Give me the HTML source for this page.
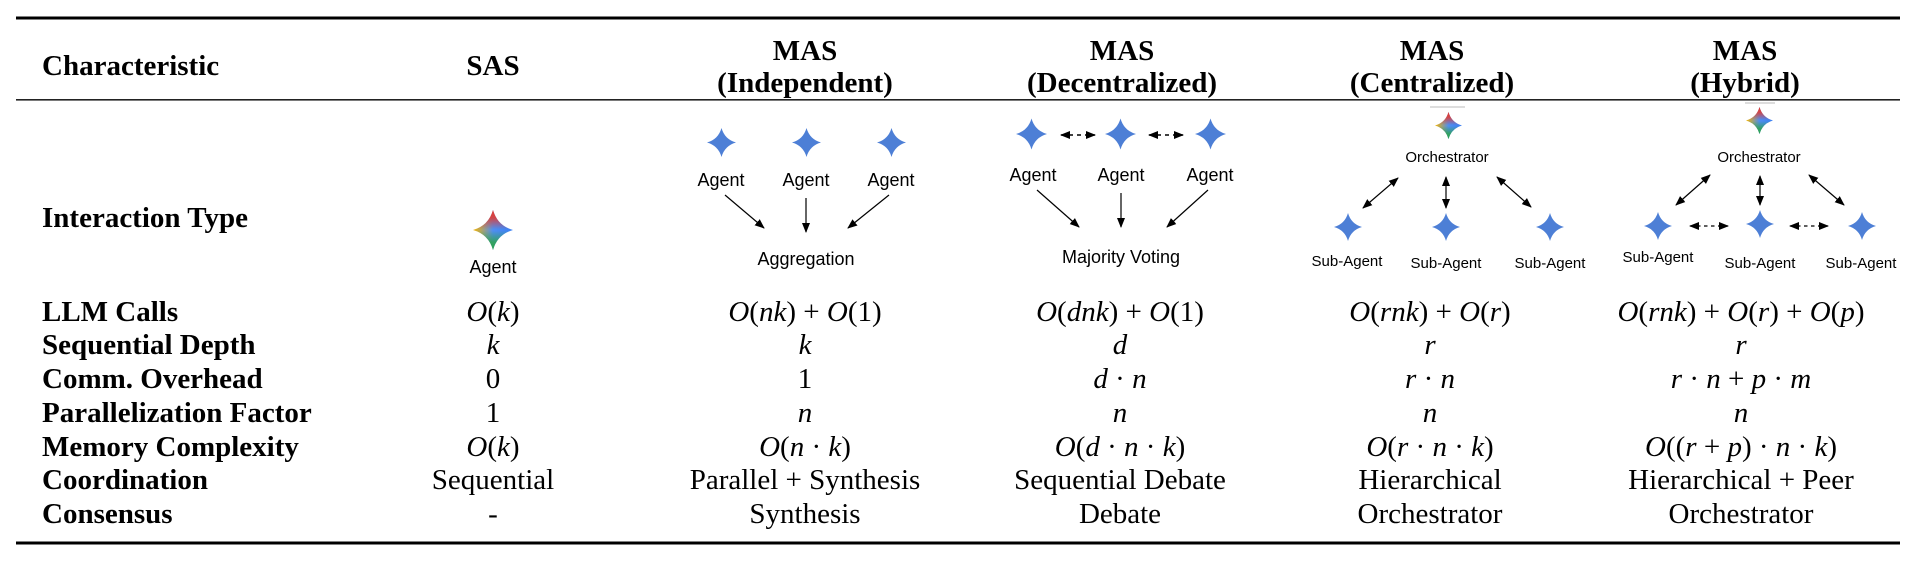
<!DOCTYPE html>
<html><head><meta charset="utf-8">
<style>
html,body{margin:0;padding:0;background:#fff;}
svg{display:block;}
.h{font-family:"Liberation Serif",serif;font-weight:bold;font-size:29px;fill:#000;}
.v{font-family:"Liberation Serif",serif;font-size:29px;fill:#000;}
.i{font-style:italic;}
.s{font-family:"Liberation Sans",sans-serif;font-size:18px;fill:#000;}
.ss{font-family:"Liberation Sans",sans-serif;font-size:15px;fill:#000;}
</style></head>
<body>
<svg width="1916" height="562" viewBox="0 0 1916 562" xmlns="http://www.w3.org/2000/svg">
<defs>
  <linearGradient id="gx" x1="0" y1="0" x2="1" y2="0">
    <stop offset="0" stop-color="#f6b400"/>
    <stop offset="0.5" stop-color="#4f8ef0"/>
    <stop offset="1" stop-color="#3b7ff2"/>
  </linearGradient>
  <linearGradient id="gt" x1="0" y1="0" x2="0" y2="1">
    <stop offset="0" stop-color="#e53a2f" stop-opacity="1"/>
    <stop offset="0.2" stop-color="#e53a2f" stop-opacity="0.85"/>
    <stop offset="0.48" stop-color="#e53a2f" stop-opacity="0"/>
  </linearGradient>
  <linearGradient id="gb" x1="0" y1="0" x2="0" y2="1">
    <stop offset="0.52" stop-color="#2ea44f" stop-opacity="0"/>
    <stop offset="0.8" stop-color="#2ea44f" stop-opacity="0.85"/>
    <stop offset="1" stop-color="#2ea44f" stop-opacity="1"/>
  </linearGradient>
  <symbol id="star" viewBox="-1 -1 2 2">
    <path d="M0,-1 Q0.22,-0.22 1,0 Q0.22,0.22 0,1 Q-0.22,0.22 -1,0 Q-0.22,-0.22 0,-1Z"/>
  </symbol>
  <symbol id="cstar" viewBox="-1 -1 2 2">
    <path fill="url(#gx)" d="M0,-1 Q0.22,-0.22 1,0 Q0.22,0.22 0,1 Q-0.22,0.22 -1,0 Q-0.22,-0.22 0,-1Z"/>
    <path fill="url(#gt)" d="M0,-1 Q0.22,-0.22 1,0 Q0.22,0.22 0,1 Q-0.22,0.22 -1,0 Q-0.22,-0.22 0,-1Z"/>
    <path fill="url(#gb)" d="M0,-1 Q0.22,-0.22 1,0 Q0.22,0.22 0,1 Q-0.22,0.22 -1,0 Q-0.22,-0.22 0,-1Z"/>
  </symbol>
  <marker id="ah" markerUnits="userSpaceOnUse" markerWidth="10" markerHeight="10" viewBox="0 0 10 10" refX="9" refY="5" orient="auto-start-reverse">
    <path d="M0,1 L10,5 L0,9 Z" fill="#000"/>
  </marker>
</defs>

<!-- rules -->
<rect x="16" y="16.5" width="1884" height="3" fill="#000"/>
<rect x="16" y="99" width="1884" height="1.6" fill="#222"/>
<rect x="16" y="541.5" width="1884" height="3" fill="#000"/>

<!-- header -->
<text class="h" x="42" y="75">Characteristic</text>
<text class="h" x="493" y="75" text-anchor="middle">SAS</text>
<text class="h" x="805" y="60" text-anchor="middle">MAS</text>
<text class="h" x="805" y="92" text-anchor="middle">(Independent)</text>
<text class="h" x="1122" y="60" text-anchor="middle">MAS</text>
<text class="h" x="1122" y="92" text-anchor="middle">(Decentralized)</text>
<text class="h" x="1432" y="60" text-anchor="middle">MAS</text>
<text class="h" x="1432" y="92" text-anchor="middle">(Centralized)</text>
<text class="h" x="1745" y="60" text-anchor="middle">MAS</text>
<text class="h" x="1745" y="92" text-anchor="middle">(Hybrid)</text>

<!-- row labels -->
<text class="h" x="42" y="227">Interaction Type</text>
<text class="h" x="42" y="321">LLM Calls</text>
<text class="h" x="42" y="354">Sequential Depth</text>
<text class="h" x="42" y="388">Comm. Overhead</text>
<text class="h" x="42" y="422">Parallelization Factor</text>
<text class="h" x="42" y="456">Memory Complexity</text>
<text class="h" x="42" y="489">Coordination</text>
<text class="h" x="42" y="523">Consensus</text>

<!-- SAS values -->
<g class="v" text-anchor="middle">
<text x="493" y="321"><tspan class="i">O</tspan>(<tspan class="i">k</tspan>)</text>
<text x="493" y="354" class="i">k</text>
<text x="493" y="388">0</text>
<text x="493" y="422">1</text>
<text x="493" y="456"><tspan class="i">O</tspan>(<tspan class="i">k</tspan>)</text>
<text x="493" y="489">Sequential</text>
<text x="493" y="523">-</text>

<!-- Independent -->
<text x="805" y="321"><tspan class="i">O</tspan>(<tspan class="i">nk</tspan>) + <tspan class="i">O</tspan>(1)</text>
<text x="805" y="354" class="i">k</text>
<text x="805" y="388">1</text>
<text x="805" y="422" class="i">n</text>
<text x="805" y="456"><tspan class="i">O</tspan>(<tspan class="i">n</tspan> · <tspan class="i">k</tspan>)</text>
<text x="805" y="489">Parallel + Synthesis</text>
<text x="805" y="523">Synthesis</text>

<!-- Decentralized -->
<text x="1120" y="321"><tspan class="i">O</tspan>(<tspan class="i">dnk</tspan>) + <tspan class="i">O</tspan>(1)</text>
<text x="1120" y="354" class="i">d</text>
<text x="1120" y="388"><tspan class="i">d</tspan> · <tspan class="i">n</tspan></text>
<text x="1120" y="422" class="i">n</text>
<text x="1120" y="456"><tspan class="i">O</tspan>(<tspan class="i">d</tspan> · <tspan class="i">n</tspan> · <tspan class="i">k</tspan>)</text>
<text x="1120" y="489">Sequential Debate</text>
<text x="1120" y="523">Debate</text>

<!-- Centralized -->
<text x="1430" y="321"><tspan class="i">O</tspan>(<tspan class="i">rnk</tspan>) + <tspan class="i">O</tspan>(<tspan class="i">r</tspan>)</text>
<text x="1430" y="354" class="i">r</text>
<text x="1430" y="388"><tspan class="i">r</tspan> · <tspan class="i">n</tspan></text>
<text x="1430" y="422" class="i">n</text>
<text x="1430" y="456"><tspan class="i">O</tspan>(<tspan class="i">r</tspan> · <tspan class="i">n</tspan> · <tspan class="i">k</tspan>)</text>
<text x="1430" y="489">Hierarchical</text>
<text x="1430" y="523">Orchestrator</text>

<!-- Hybrid -->
<text x="1741" y="321"><tspan class="i">O</tspan>(<tspan class="i">rnk</tspan>) + <tspan class="i">O</tspan>(<tspan class="i">r</tspan>) + <tspan class="i">O</tspan>(<tspan class="i">p</tspan>)</text>
<text x="1741" y="354" class="i">r</text>
<text x="1741" y="388"><tspan class="i">r</tspan> · <tspan class="i">n</tspan> + <tspan class="i">p</tspan> · <tspan class="i">m</tspan></text>
<text x="1741" y="422" class="i">n</text>
<text x="1741" y="456"><tspan class="i">O</tspan>((<tspan class="i">r</tspan> + <tspan class="i">p</tspan>) · <tspan class="i">n</tspan> · <tspan class="i">k</tspan>)</text>
<text x="1741" y="489">Hierarchical + Peer</text>
<text x="1741" y="523">Orchestrator</text>
</g>

<!-- SAS diagram -->
<use href="#cstar" x="473" y="209" width="40" height="42"/>
<text class="s" x="493" y="273" text-anchor="middle">Agent</text>

<!-- Independent diagram -->
<g fill="#4d7fd6">
<use href="#star" x="706" y="128" width="31" height="29"/>
<use href="#star" x="791" y="128" width="31" height="29"/>
<use href="#star" x="876" y="128" width="31" height="29"/>
</g>
<g class="s" text-anchor="middle">
<text x="721" y="186">Agent</text>
<text x="806" y="186">Agent</text>
<text x="891" y="186">Agent</text>
<text x="806" y="265">Aggregation</text>
</g>
<g stroke="#000" stroke-width="1.2" fill="none">
<line x1="725" y1="195" x2="764" y2="228" marker-end="url(#ah)"/>
<line x1="806" y1="198" x2="806" y2="232" marker-end="url(#ah)"/>
<line x1="889" y1="195" x2="848" y2="228" marker-end="url(#ah)"/>
</g>

<!-- Decentralized diagram -->
<g fill="#4d7fd6">
<use href="#star" x="1016" y="118" width="31" height="32"/>
<use href="#star" x="1105" y="118" width="31" height="32"/>
<use href="#star" x="1195" y="118" width="31" height="32"/>
</g>
<g stroke="#000" stroke-width="1.4" fill="none" stroke-dasharray="4 4">
<line x1="1061" y1="135" x2="1095" y2="135" marker-start="url(#ah)" marker-end="url(#ah)"/>
<line x1="1149" y1="135" x2="1183" y2="135" marker-start="url(#ah)" marker-end="url(#ah)"/>
</g>
<g class="s" text-anchor="middle">
<text x="1033" y="181">Agent</text>
<text x="1121" y="181">Agent</text>
<text x="1210" y="181">Agent</text>
<text x="1121" y="263">Majority Voting</text>
</g>
<g stroke="#000" stroke-width="1.2" fill="none">
<line x1="1037" y1="190" x2="1079" y2="227" marker-end="url(#ah)"/>
<line x1="1121" y1="193" x2="1121" y2="227" marker-end="url(#ah)"/>
<line x1="1208" y1="190" x2="1167" y2="227" marker-end="url(#ah)"/>
</g>

<!-- Centralized diagram -->
<line x1="1430" y1="107" x2="1465" y2="107" stroke="#bbb" stroke-width="1"/>
<use href="#cstar" x="1435" y="111" width="27" height="29"/>
<text class="ss" x="1447" y="162" text-anchor="middle">Orchestrator</text>
<g stroke="#000" stroke-width="1.2" fill="none">
<line x1="1398" y1="178" x2="1363" y2="208" marker-start="url(#ah)" marker-end="url(#ah)"/>
<line x1="1446" y1="177" x2="1446" y2="208" marker-start="url(#ah)" marker-end="url(#ah)"/>
<line x1="1497" y1="177" x2="1531" y2="207" marker-start="url(#ah)" marker-end="url(#ah)"/>
</g>
<g fill="#4d7fd6">
<use href="#star" x="1334" y="213" width="28" height="28"/>
<use href="#star" x="1432" y="213" width="28" height="28"/>
<use href="#star" x="1536" y="213" width="28" height="28"/>
</g>
<g class="ss" text-anchor="middle">
<text x="1347" y="266">Sub-Agent</text>
<text x="1446" y="268">Sub-Agent</text>
<text x="1550" y="268">Sub-Agent</text>
</g>

<!-- Hybrid diagram -->
<line x1="1745" y1="103" x2="1775" y2="103" stroke="#bbb" stroke-width="1"/>
<use href="#cstar" x="1746" y="106" width="27" height="29"/>
<text class="ss" x="1759" y="162" text-anchor="middle">Orchestrator</text>
<g stroke="#000" stroke-width="1.2" fill="none">
<line x1="1710" y1="175" x2="1676" y2="205" marker-start="url(#ah)" marker-end="url(#ah)"/>
<line x1="1760" y1="176" x2="1760" y2="205" marker-start="url(#ah)" marker-end="url(#ah)"/>
<line x1="1809" y1="175" x2="1844" y2="205" marker-start="url(#ah)" marker-end="url(#ah)"/>
</g>
<g fill="#4d7fd6">
<use href="#star" x="1644" y="212" width="28" height="28"/>
<use href="#star" x="1746" y="210" width="28" height="28"/>
<use href="#star" x="1848" y="212" width="28" height="28"/>
</g>
<g stroke="#000" stroke-width="1.3" fill="none" stroke-dasharray="3.5 3.5">
<line x1="1690" y1="226" x2="1728" y2="226" marker-start="url(#ah)" marker-end="url(#ah)"/>
<line x1="1790" y1="226" x2="1828" y2="226" marker-start="url(#ah)" marker-end="url(#ah)"/>
</g>
<g class="ss" text-anchor="middle">
<text x="1658" y="262">Sub-Agent</text>
<text x="1760" y="268">Sub-Agent</text>
<text x="1861" y="268">Sub-Agent</text>
</g>
</svg>
</body></html>
